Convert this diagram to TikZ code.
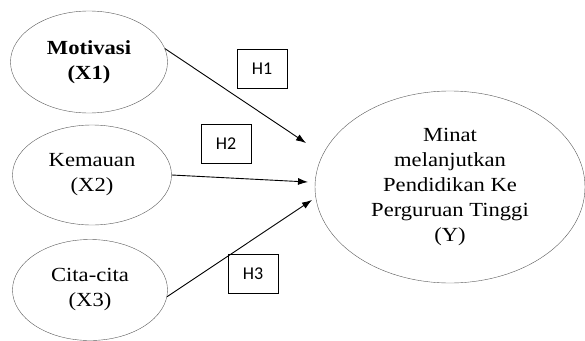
\documentclass[tikz,border=0pt]{standalone}
\usepackage{fontspec}
\setmainfont[FakeStretch=1.13]{Liberation Serif}
\newfontfamily\hfont{Carlito}
\usetikzlibrary{shapes.geometric,arrows.meta}

\tikzset{
	var/.style={ellipse, draw=black!65, inner sep=0pt, align=center,
		font=\fontsize{20}{25}\selectfont},
	hbox/.style={draw, minimum width=50pt, minimum height=39pt, inner sep=0pt,
		font=\hfont\fontsize{18}{20}\selectfont},
	path/.style={-{Latex[length=10pt,width=7pt]}, line width=0.9pt}
}

\begin{document}
\begin{tikzpicture}[x=1pt,y=1pt]
	\useasboundingbox (0,0) rectangle (585,-340);

	\node[var, minimum width=157pt, minimum height=102pt] (x1) at (89,-62) {\textbf{Motivasi}\\\textbf{(X1)}};
	\node[var, minimum width=159pt, minimum height=100pt] (x2) at (92,-175) {Kemauan\\(X2)};
	\node[var, minimum width=155pt, minimum height=101pt] (x3) at (90,-290) {Cita-cita\\(X3)};
	\node[var, minimum width=270pt, minimum height=192pt] (y) at (450,-187) {Minat\\melanjutkan\\Pendidikan Ke\\Perguruan Tinggi\\(Y)};

	\coordinate (y1) at (306,-143);
	\coordinate (y2) at (308,-182);
	\coordinate (y3) at (312,-200);

	\draw [path] (x1.10) -- (y1);
	\draw [path] (x2.east) -- (y2);
	\draw [path] (x3.-5) -- (y3);

	\node[hbox] (h1) at (262,-69) {H1};
	\node[hbox] (h2) at (226,-144) {H2};
	\node[hbox] (h3) at (253,-274) {H3};
\end{tikzpicture}
\end{document}
